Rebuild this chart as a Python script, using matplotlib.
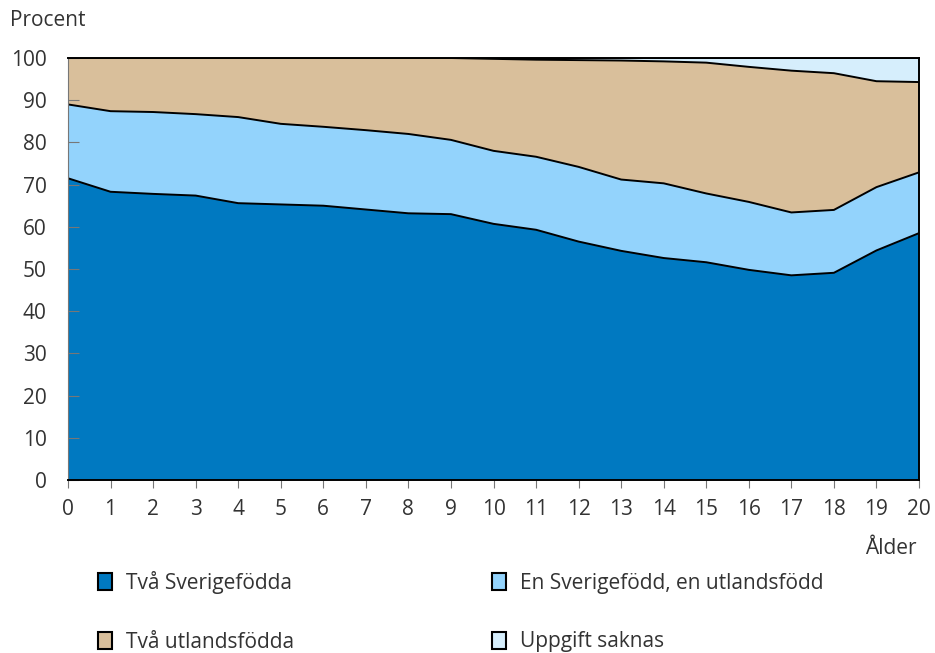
import numpy as np
import matplotlib
matplotlib.use("Agg")
import matplotlib.pyplot as plt
from matplotlib.patches import Patch

plt.rcParams['font.family'] = ['Open Sans', 'DejaVu Sans']

alder = np.arange(0, 21)
tva_sverige = [71.5, 68.3, 67.8, 67.4, 65.6, 65.3, 65.0, 64.1, 63.2, 63.0, 60.7,
               59.3, 56.5, 54.3, 52.6, 51.6, 49.8, 48.5, 49.1, 54.4, 58.5]
en_sverige = [17.5, 19.1, 19.4, 19.3, 20.4, 19.1, 18.7, 18.8, 18.8, 17.6, 17.3,
              17.3, 17.7, 16.9, 17.7, 16.3, 16.1, 14.9, 14.9, 15.0, 14.4]
tva_utlands = [11.0, 12.6, 12.8, 13.3, 14.0, 15.6, 16.3, 17.1, 18.0, 19.4, 21.8,
               23.0, 25.3, 28.2, 28.9, 31.0, 32.0, 33.6, 32.4, 25.1, 21.4]
saknas = [0, 0, 0, 0, 0, 0, 0, 0, 0, 0, 0.2,
          0.4, 0.5, 0.6, 0.8, 1.1, 2.1, 3.0, 3.6, 5.5, 5.7]

etiketter = ["Två Sverigefödda", "En Sverigefödd, en utlandsfödd",
             "Två utlandsfödda", "Uppgift saknas"]
farger = ["#0079c1", "#93d3fc", "#d9bf9b", "#d6eefc"]
textfarg = "#333333"

fig = plt.figure(figsize=(9.35, 6.53), dpi=100)
ax = fig.add_axes([68/935, 1-480/653, (919-68)/935, (480-58)/653])

serier = [tva_sverige, en_sverige, tva_utlands, saknas]
ax.stackplot(alder, serier, colors=farger, linewidth=0)
kum = np.cumsum(np.array(serier), axis=0)
for rad in kum:
    ax.plot(alder, rad, color="black", lw=1.4, solid_joinstyle="round")

ax.set_xlim(0, 20)
ax.set_ylim(0, 100)
ax.set_xticks(alder)
ax.set_yticks(range(0, 101, 10))

for side in ["top", "right", "bottom"]:
    ax.spines[side].set_color("black")
    ax.spines[side].set_linewidth(1.4)
ax.spines["left"].set_color("#777777")
ax.spines["left"].set_linewidth(0.8)

ax.tick_params(axis="y", direction="in", length=8, width=0.8, color="#777777",
               labelsize=15, labelcolor=textfarg, pad=15.5)
ax.tick_params(axis="x", direction="out", length=6, width=0.8, color="#777777",
               labelsize=15, labelcolor=textfarg, pad=8)

fig.text(10/935, 1-20/653, "Procent", fontsize=15, color=textfarg,
         ha="left", va="center")
fig.text(917/935, 1-549/653, "Ålder", fontsize=15, color=textfarg,
         ha="right", va="center")

# radvis ordning i legenden
ordning = [0, 2, 1, 3]
handtag = [Patch(facecolor=farger[i], edgecolor="black", linewidth=1.5) for i in ordning]
fig.legend(handtag, [etiketter[i] for i in ordning], ncol=2, loc="upper left",
           bbox_to_anchor=(98/935, 1-571/653), frameon=False, fontsize=15,
           labelcolor=textfarg, handlelength=0.65, handleheight=0.9,
           handletextpad=0.7, columnspacing=9.5, labelspacing=1.8,
           borderaxespad=0, borderpad=0)

fig.savefig("out.png", dpi=100)
